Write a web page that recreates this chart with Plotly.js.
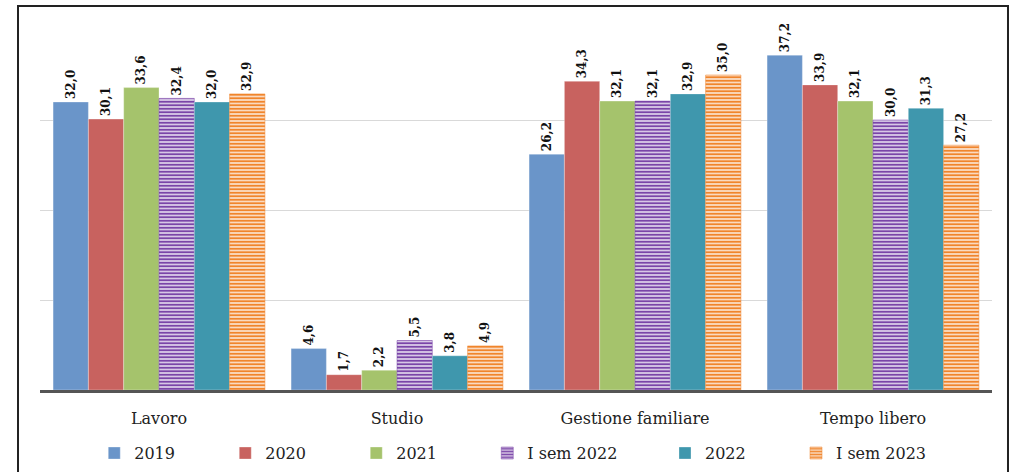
<!DOCTYPE html>
<html><head><meta charset="utf-8">
<script src="https://cdn.plot.ly/plotly-3.0.1.min.js"></script>
<style>body{margin:0;background:#fff}#c{width:1017px;height:472px}</style>
</head><body><div id="c"></div>
<script>
const categories = ["Lavoro", "Studio", "Gestione familiare", "Tempo libero"];
const seriesNames = ["2019", "2020", "2021", "I sem 2022", "2022", "I sem 2023"];
const v2019 = [32.0, 4.6, 26.2, 37.2];
const v2020 = [30.1, 1.7, 34.3, 33.9];
const v2021 = [33.6, 2.2, 32.1, 32.1];
const vSem2022 = [32.4, 5.5, 32.1, 30.0];
const v2022 = [32.0, 3.8, 32.9, 31.3];
const vSem2023 = [32.9, 4.9, 35.0, 27.2];
const values = [v2019, v2020, v2021, vSem2022, v2022, vSem2023];

const colors = ["#6a95c9", "#c8625f", "#a5c36c", "#7a45a8", "#3f97ad", "#f0852c"];
const hatched = [false, false, false, true, false, true];
const legendGroup = ["legend", "legend", "legend", "legend", "legend2", "legend2"];

const fmt = v => v.toFixed(1).replace(".", ",");

const traces = values.map((vals, i) => {
  const marker = {color: hatched[i] ? "#ffffff" : colors[i], line: {color: hatched[i] ? colors[i] : "rgba(255,255,255,0.6)", width: 0.5}};
  if (hatched[i]) marker.pattern = {shape: "-", fgcolor: colors[i], bgcolor: "#ffffff", size: 3.5, solidity: 0.65, fillmode: "replace"};
  return {
    type: "bar", name: seriesNames[i], x: categories, y: vals, legend: legendGroup[i],
    text: vals.map(fmt), textposition: "outside", textangle: -90,
    textfont: {family: "DejaVu Serif, serif", size: 12, color: "#111", weight: "bold"},
    cliponaxis: false, marker: marker, hoverinfo: "skip"
  };
});

const legendFont = {family: "DejaVu Serif, serif", size: 16, color: "#222"};
const layout = {
  width: 1017, height: 472,
  margin: {l: 40, r: 25, t: 30, b: 82, autoexpand: false},
  paper_bgcolor: "#fff", plot_bgcolor: "#fff",
  barmode: "group", bargap: 0.11, bargroupgap: 0,
  showlegend: true,
  legend: {orientation: "h", x: 0.057, xanchor: "left", yref: "container", y: 0.04, yanchor: "middle",
    entrywidth: 86, entrywidthmode: "pixels", itemwidth: 30, bgcolor: "rgba(0,0,0,0)", font: legendFont},
  legend2: {orientation: "h", x: 0.6565, xanchor: "left", yref: "container", y: 0.04, yanchor: "middle",
    entrywidth: 86, entrywidthmode: "pixels", itemwidth: 30, bgcolor: "rgba(0,0,0,0)", font: legendFont},
  xaxis: {showline: true, linecolor: "#555", linewidth: 2.5, ticks: "", ticklabelstandoff: 12,
    tickfont: {family: "DejaVu Serif, serif", size: 16, color: "#222"}, fixedrange: true},
  yaxis: {range: [0, 40], dtick: 10, showticklabels: false, gridcolor: "#d9d9d9", gridwidth: 1,
    zeroline: false, showline: false, fixedrange: true},
  shapes: [
    {type: "rect", xref: "paper", yref: "paper", x0: -0.0231, x1: 1.0168, y0: -0.3, y1: 1.0667,
     line: {color: "#222", width: 2}, fillcolor: "rgba(0,0,0,0)"}
  ]
};
Plotly.newPlot("c", traces, layout, {displayModeBar: false, staticPlot: true});
</script></body></html>
